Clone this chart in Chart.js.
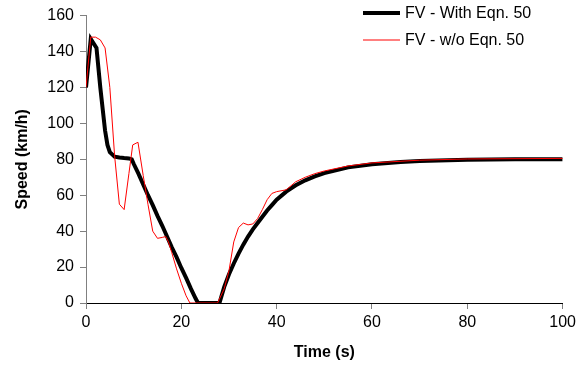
<!DOCTYPE html>
<html>
<head>
<meta charset="utf-8">
<script src="https://cdn.jsdelivr.net/npm/chart.js@4"></script>
<style>
  html, body { margin: 0; padding: 0; background: #fff; overflow: hidden; }
  #clip { width: 576px; height: 366px; overflow: hidden; }
  #wrap { width: 580px; height: 366px; }
</style>
</head>
<body>
<div id="clip"><div id="wrap"><canvas id="chart"></canvas></div></div>
<script>
// time (s) and speed (km/h)
const withTime  = [0, 1, 2.2, 3, 4, 4.5, 5, 6, 7, 8, 9, 9.6, 10, 11, 12, 13, 14, 15, 16, 17, 18, 19, 20, 21, 22, 23, 23.5, 28, 29, 30, 31, 32, 33, 34, 35, 36, 37, 38, 39, 40, 42, 44, 46, 48, 50, 55, 60, 66, 70, 80, 90, 100];
const withSpeed = [120, 147, 142, 120, 96, 88, 84, 81.5, 81, 80.7, 80.5, 80, 77.5, 72, 66, 60, 54.5, 48.5, 43, 37, 31, 25.5, 19.5, 14, 8, 2.5, 0, 0, 9, 16, 22, 27.5, 32.5, 37, 41, 44.5, 48, 51.5, 54.5, 57.5, 62, 65.5, 68.3, 70.5, 72.3, 75.5, 77.2, 78.5, 79, 79.7, 80, 80];

const woTime  = [0, 1, 2, 3, 4, 5, 6, 7, 8, 9, 9.8, 10.9, 12, 13, 14, 15, 16, 16.7, 17.3, 18, 19, 20, 21, 21.8, 27.6, 29, 30, 31, 32, 33, 34, 35, 36, 37, 38, 39, 40, 42, 44, 46, 48, 50, 55, 60, 70, 80, 100];
const woSpeed = [120, 148, 148, 146.5, 142, 120, 82, 55, 52, 72, 88, 89.5, 71, 55, 40, 36, 36.5, 37, 34, 28, 19, 11, 4, 0, 0, 8, 18, 34, 42, 44.5, 43.5, 44, 47, 52, 57.5, 61, 62, 63, 67.5, 70, 72, 73.5, 76.3, 78, 79.5, 80.2, 80.5];

const xTicks = [0, 20, 40, 60, 80, 100];
const yTicks = [0, 20, 40, 60, 80, 100, 120, 140, 160];

const seriesNames = ['FV - With Eqn. 50', 'FV - w/o Eqn. 50'];

const FONT = '"Liberation Sans", Arial, sans-serif';
Chart.defaults.font.family = FONT;
Chart.defaults.font.size = 16;
Chart.defaults.color = '#000';

const toPts = (xs, ys) => xs.map((x, i) => ({ x, y: ys[i] }));

// legend drawn inside the plot, top right
const cornerLegend = {
  id: 'cornerLegend',
  afterDraw(chart) {
    const ctx = chart.ctx;
    const rows = [
      { text: seriesNames[0], color: '#000', width: 4, y: 13 },
      { text: seriesNames[1], color: '#ff0000', width: 1, y: 40 }
    ];
    ctx.save();
    ctx.font = '16px ' + FONT;
    ctx.textBaseline = 'middle';
    rows.forEach(r => {
      ctx.strokeStyle = r.color;
      ctx.lineWidth = r.width;
      ctx.beginPath();
      ctx.moveTo(363, r.y);
      ctx.lineTo(400, r.y);
      ctx.stroke();
      ctx.fillStyle = '#000';
      ctx.fillText(r.text, 405, r.y + 1);
    });
    ctx.restore();
  }
};

new Chart(document.getElementById('chart'), {
  type: 'line',
  data: {
    datasets: [
      { label: seriesNames[0], data: toPts(withTime, withSpeed), borderColor: '#000', borderWidth: 4, pointRadius: 0, tension: 0, order: 2 },
      { label: seriesNames[1], data: toPts(woTime, woSpeed), borderColor: '#ff0000', borderWidth: 1, pointRadius: 0, tension: 0, order: 1 }
    ]
  },
  options: {
    responsive: true,
    maintainAspectRatio: false,
    animation: false,
    layout: { padding: { top: 15, right: 14, left: 0, bottom: 0 } },
    plugins: { legend: { display: false }, tooltip: { enabled: false } },
    scales: {
      x: {
        type: 'linear', min: 0, max: 100,
        afterBuildTicks: s => { s.ticks = xTicks.map(v => ({ value: v })); },
        afterFit: s => { s.height = 63; },
        grid: { drawOnChartArea: false, drawTicks: true, tickLength: 6, tickColor: '#808080' },
        border: { display: true, color: '#000', width: 1 },
        ticks: { padding: 4, maxRotation: 0, font: { size: 16 } },
        title: { display: true, text: 'Time (s)', font: { size: 16, weight: 'bold' }, padding: { top: 0, bottom: 4 } }
      },
      y: {
        min: 0, max: 160,
        afterBuildTicks: s => { s.ticks = yTicks.map(v => ({ value: v })); },
        afterFit: s => { s.width = 86; },
        grid: { drawOnChartArea: false, drawTicks: true, tickLength: 6, tickColor: '#808080' },
        border: { display: true, color: '#808080', width: 1 },
        ticks: { padding: 6, font: { size: 16 } },
        title: { display: true, text: 'Speed (km/h)', font: { size: 16, weight: 'bold' }, padding: { top: 13, bottom: 0 } }
      }
    }
  },
  plugins: [cornerLegend]
});
</script>
</body>
</html>
